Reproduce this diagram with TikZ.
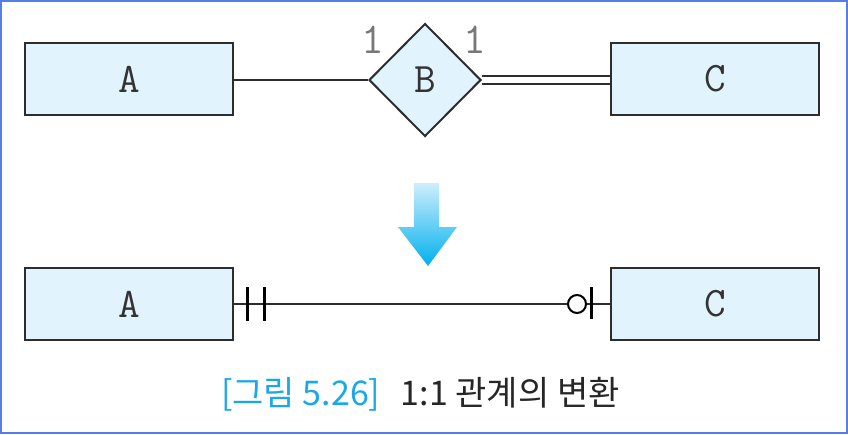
\documentclass[tikz,border=0pt]{standalone}
\usepackage{fontspec}
\newfontfamily\krfnt{Noto Sans CJK KR}
\usetikzlibrary{shapes.geometric}
\definecolor{boxfill}{RGB}{225,243,252}
\definecolor{boxline}{RGB}{45,45,45}
\definecolor{frameblue}{RGB}{85,125,235}
\definecolor{capblue}{RGB}{27,168,232}
\definecolor{onegray}{RGB}{120,120,120}
\definecolor{arrtop}{RGB}{205,238,252}
\definecolor{arrbot}{RGB}{0,176,238}
\tikzset{
  entity/.style={draw=boxline, fill=boxfill, line width=2pt, minimum width=208pt, minimum height=72pt, inner sep=0pt, text=black!80, font=\ttfamily\fontsize{42}{42}\selectfont},
  relation/.style={diamond, draw=boxline, fill=boxfill, line width=2pt, minimum width=112pt, minimum height=113pt, inner sep=0pt, text=black!80, font=\ttfamily\fontsize{42}{42}\selectfont},
  conn/.style={draw=boxline, line width=2pt},
  bar/.style={draw=black, line width=3pt},
  card/.style={text=onegray, font=\ttfamily\fontsize{44}{44}\selectfont, inner sep=0pt},
}
\begin{document}
\begin{tikzpicture}[x=1pt,y=-1pt]
\useasboundingbox (0,0) rectangle (848,434);
\draw[frameblue, line width=2pt] (1,1) rectangle (847,433);
% top
\node[entity] (a1) at (129,79) {A};
\node[entity] (c1) at (715,79) {C};
\node[relation] (b) at (425,80) {B};
\node[card] (one1) at (373,40) {1};
\node[card] (one2) at (475,40) {1};
\draw[conn] (a1.east |- b.west) -- (b.west);
\draw[conn] ([yshift=-4pt]b.east) -- ([yshift=-4pt]b.east -| c1.west);
\draw[conn] ([yshift=4pt]b.east) -- ([yshift=4pt]b.east -| c1.west);
% arrow
\shade[top color=arrtop, bottom color=arrbot]
  (414,183) -- (439,183) -- (439,227) -- (457,227) -- (428,266) -- (398,227) -- (414,227) -- cycle;
% bottom
\node[entity] (a2) at (129,304) {A};
\node[entity] (c2) at (715,304) {C};
\draw[conn] (a2.east) -- (c2.west);
\coordinate (m1) at ([xshift=13pt]a2.east);
\coordinate (m2) at ([xshift=30pt]a2.east);
\coordinate (o1) at ([xshift=-33pt]c2.west);
\coordinate (m3) at ([xshift=-19pt]c2.west);
\draw[bar] ([yshift=-17pt]m1) -- ([yshift=17pt]m1);
\draw[bar] ([yshift=-17pt]m2) -- ([yshift=17pt]m2);
\draw[bar] ([yshift=-15pt]m3) -- ([yshift=17pt]m3);
\draw[black, line width=2pt, fill=white] (o1) circle (9pt);
% caption
\node[inner sep=0pt, anchor=west, text=black!85, font=\krfnt\fontsize{34}{34}\selectfont] (cap) at (221,394) {\textcolor{capblue}{[그림 5.26]}\hspace{0.6em}1:1 관계의 변환};
\end{tikzpicture}
\end{document}
